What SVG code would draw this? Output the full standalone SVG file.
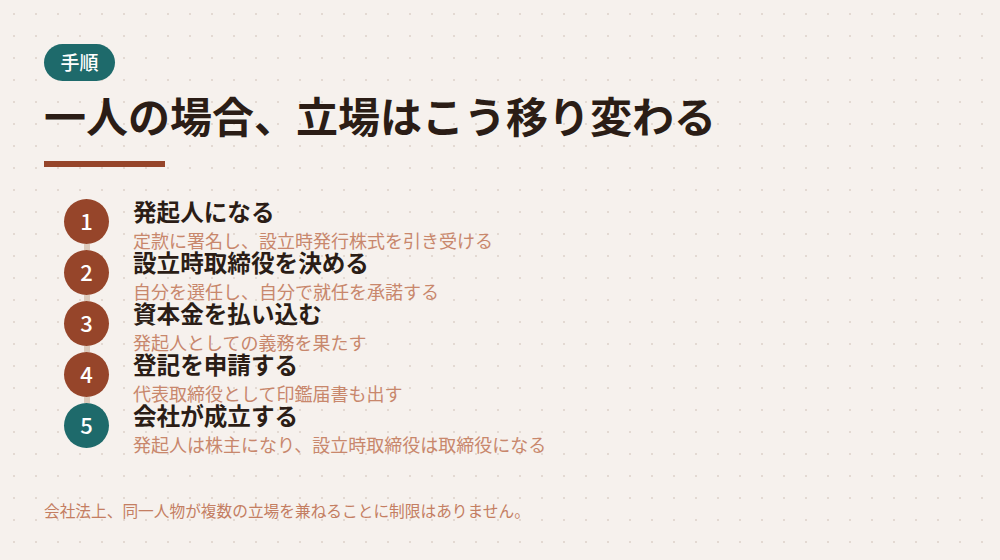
<svg xmlns="http://www.w3.org/2000/svg" width="1000" height="560" viewBox="0 0 1000 560">
<defs>
<pattern id="dots" x="3" y="3" width="22" height="22" patternUnits="userSpaceOnUse">
<circle cx="11" cy="11" r="1" fill="#ddd2ca"/>
</pattern>
<style>
.f{font-family:"Noto Sans CJK JP","Noto Sans",sans-serif}
.title{font-size:42px;font-weight:700;fill:#2b1d16}
.st{font-size:23.6px;font-weight:700;fill:#2b1d16}
.sub{font-size:18px;font-weight:400;fill:#c8876c}
.num{font-size:22px;font-weight:500;fill:#ffffff;text-anchor:middle}
.rust{fill:#96452a}
.teal{fill:#1e6a6b}
.conn{stroke:#dccabb;stroke-width:6}
</style>
</defs>
<rect width="1000" height="560" fill="#f6f1ed"/>
<rect width="1000" height="560" fill="url(#dots)"/>
<g id="badge">
<rect x="44" y="44" width="71" height="37" rx="18.5" class="teal"/>
<text x="79.5" y="69.5" class="f" font-size="19" font-weight="500" fill="#ffffff" text-anchor="middle">手順</text>
</g>
<g id="heading">
<text x="44" y="133" class="f title">一人の場合、立場はこう移り変わる</text>
<rect x="44" y="161" width="121" height="6" class="rust"/>
</g>
<g id="connectors">
<line x1="87" y1="244" x2="87" y2="250" class="conn"/>
<line x1="87" y1="295" x2="87" y2="301" class="conn"/>
<line x1="87" y1="346" x2="87" y2="352" class="conn"/>
<line x1="87" y1="397" x2="87" y2="403" class="conn"/>
</g>
<g id="step1">
<circle cx="86.5" cy="221.5" r="22.5" class="rust"/>
<text x="86.5" y="229.5" class="f num">1</text>
<text x="133" y="221" class="f st">発起人になる</text>
<text x="133" y="248" class="f sub">定款に署名し、設立時発行株式を引き受ける</text>
</g>
<g id="step2">
<circle cx="86.5" cy="272.5" r="22.5" class="rust"/>
<text x="86.5" y="280.5" class="f num">2</text>
<text x="133" y="272" class="f st">設立時取締役を決める</text>
<text x="133" y="299" class="f sub">自分を選任し、自分で就任を承諾する</text>
</g>
<g id="step3">
<circle cx="86.5" cy="323.5" r="22.5" class="rust"/>
<text x="86.5" y="331.5" class="f num">3</text>
<text x="133" y="323" class="f st">資本金を払い込む</text>
<text x="133" y="350" class="f sub">発起人としての義務を果たす</text>
</g>
<g id="step4">
<circle cx="86.5" cy="374.5" r="22.5" class="rust"/>
<text x="86.5" y="382.5" class="f num">4</text>
<text x="133" y="374" class="f st">登記を申請する</text>
<text x="133" y="401" class="f sub">代表取締役として印鑑届書も出す</text>
</g>
<g id="step5">
<circle cx="86.5" cy="425.5" r="22.5" class="teal"/>
<text x="86.5" y="433.5" class="f num">5</text>
<text x="133" y="425" class="f st">会社が成立する</text>
<text x="133" y="452" class="f sub">発起人は株主になり、設立時取締役は取締役になる</text>
</g>
<g id="footer">
<text x="44" y="517" class="f" font-size="15.7" fill="#c47e62">会社法上、同一人物が複数の立場を兼ねることに制限はありません。</text>
</g>
</svg>
